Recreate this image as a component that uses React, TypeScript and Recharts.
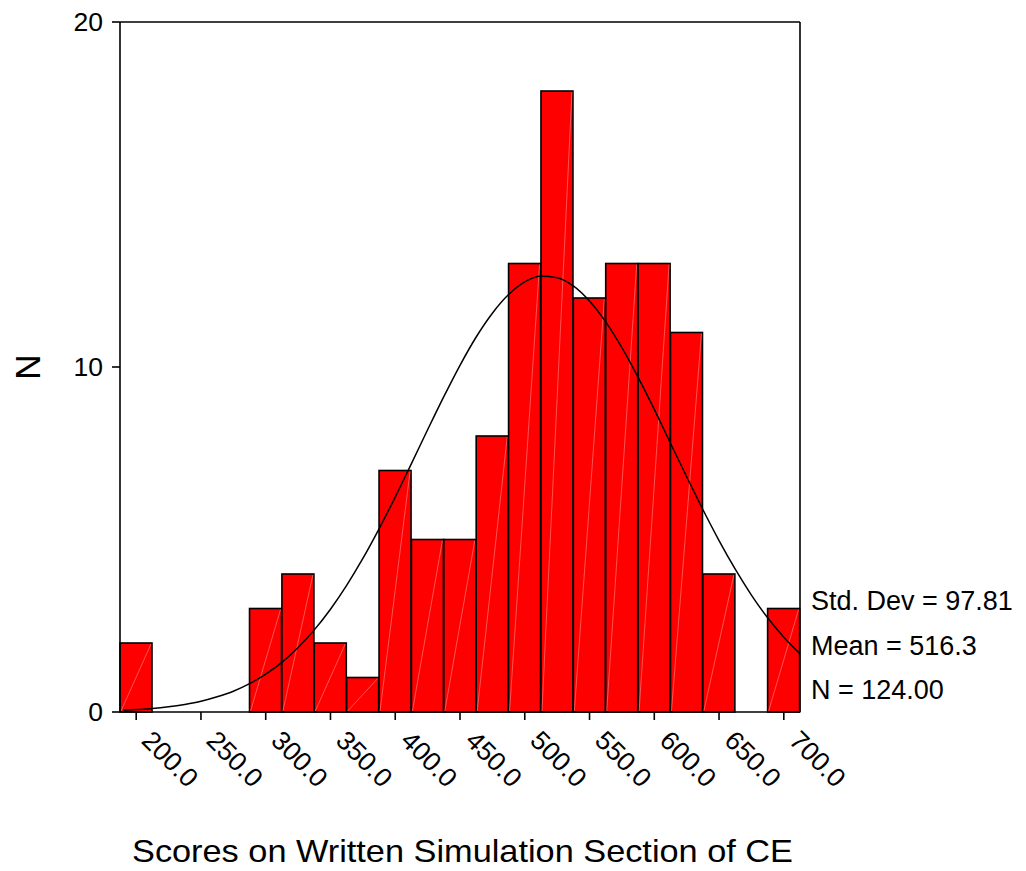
import { ComposedChart, Bar, Line, XAxis, YAxis, CartesianGrid } from 'recharts'

const FONT = '"Liberation Sans", Arial, sans-serif'

// histogram bins (midpoints) and counts
const binMids = [200, 225, 250, 275, 300, 325, 350, 375, 400, 425, 450, 475, 500, 525, 550, 575, 600, 625, 650, 675, 700]
const counts = [2, 0, 0, 0, 3, 4, 2, 1, 7, 5, 5, 8, 13, 18, 12, 13, 13, 11, 4, 0, 3]

// fitted normal curve
const curveX = [190, 200, 212.5, 225, 237.5, 250, 262.5, 275, 287.5, 300, 312.5, 325, 337.5, 350, 362.5, 375, 387.5, 400, 412.5, 425, 437.5, 450, 462.5, 475, 487.5, 500, 512.5, 525, 537.5, 550, 562.5, 575, 587.5, 600, 612.5, 625, 637.5, 650, 662.5, 675, 687.5, 700, 712.5]
const curveN = [0.05, 0.07, 0.1, 0.15, 0.22, 0.31, 0.44, 0.6, 0.82, 1.1, 1.44, 1.87, 2.38, 2.98, 3.67, 4.45, 5.31, 6.23, 7.2, 8.18, 9.14, 10.05, 10.87, 11.56, 12.1, 12.47, 12.63, 12.59, 12.35, 11.91, 11.31, 10.56, 9.7, 8.77, 7.79, 6.82, 5.87, 4.97, 4.14, 3.39, 2.73, 2.17, 1.69]

const yTicks = [0, 10, 20]
const stats = ['Std. Dev = 97.81', 'Mean = 516.3', 'N = 124.00']

const bars = binMids.map((m, i) => ({ mid: m, n: counts[i] }))
const curve = curveX.map((x, i) => ({ x, n: curveN[i] }))

const HatchBar = (props: any) => {
  const { x, y, width, height } = props
  if (!height || height <= 0) return null
  return (
    <g>
      <rect x={x} y={y} width={width} height={height} fill="#FF0000" stroke="#000" strokeWidth={1.6} />
      <line x1={x + 1} y1={y + height - 1} x2={x + width - 1} y2={y + 1} stroke="#FF8C8C" strokeWidth={0.6} />
    </g>
  )
}

const XTick = ({ x, y, payload }: any) => {
  const tx = x + 4
  const ty = y + 22
  return (
    <text x={tx} y={ty} transform={`rotate(45, ${tx}, ${ty})`} fontSize={26.5} fontFamily={FONT} fill="#000" textAnchor="start">
      {Number(payload.value).toFixed(1)}
    </text>
  )
}

export default function App() {
  return (
    <div style={{ position: 'absolute', left: 0, top: 0, width: 1026, height: 871, background: '#fff' }}>
      <ComposedChart width={1026} height={871} data={bars}
        margin={{ top: 22, right: 226, bottom: 99, left: 60 }}
        barCategoryGap={0} barGap={0}>
        {/* frame: top and right edges of the plot box */}
        <CartesianGrid xAxisId="curve" horizontalValues={[20]} verticalValues={[712.5]}
          stroke="#000" strokeWidth={1.6} />
        <XAxis dataKey="mid" interval={1} height={60} tickSize={8} tickMargin={0}
          axisLine={{ stroke: '#000', strokeWidth: 1.6 }} tickLine={{ stroke: '#000', strokeWidth: 1.6 }}
          tick={<XTick />} />
        <XAxis xAxisId="curve" type="number" dataKey="x" domain={[187.5, 712.5]} allowDataOverflow hide />
        <YAxis domain={[0, 20]} ticks={yTicks} width={60} tickSize={8} tickMargin={9}
          axisLine={{ stroke: '#000', strokeWidth: 1.6 }} tickLine={{ stroke: '#000', strokeWidth: 1.6 }}
          tick={{ fontSize: 26.5, fill: '#000', fontFamily: FONT }} />
        <Bar dataKey="n" shape={<HatchBar />} isAnimationActive={false} />
        <Line data={curve} xAxisId="curve" dataKey="n" type="monotone" stroke="#000" strokeWidth={1.5}
          dot={false} activeDot={false} isAnimationActive={false} />
      </ComposedChart>
      <svg width={1026} height={871} style={{ position: 'absolute', left: 0, top: 0, pointerEvents: 'none' }}>
        {stats.map((s, i) => (
          <text key={s} x={811} y={610 + i * 44.5} fontSize={27} fontFamily={FONT} fill="#000">{s}</text>
        ))}
        <text x={40} y={367} transform="rotate(-90, 40, 367)" textAnchor="middle" fontSize={35} fontFamily={FONT} fill="#000">N</text>
        <text x={132} y={862} textLength={661} lengthAdjust="spacingAndGlyphs" fontSize={32} fontFamily={FONT} fill="#000">
          Scores on Written Simulation Section of CE
        </text>
      </svg>
    </div>
  )
}
